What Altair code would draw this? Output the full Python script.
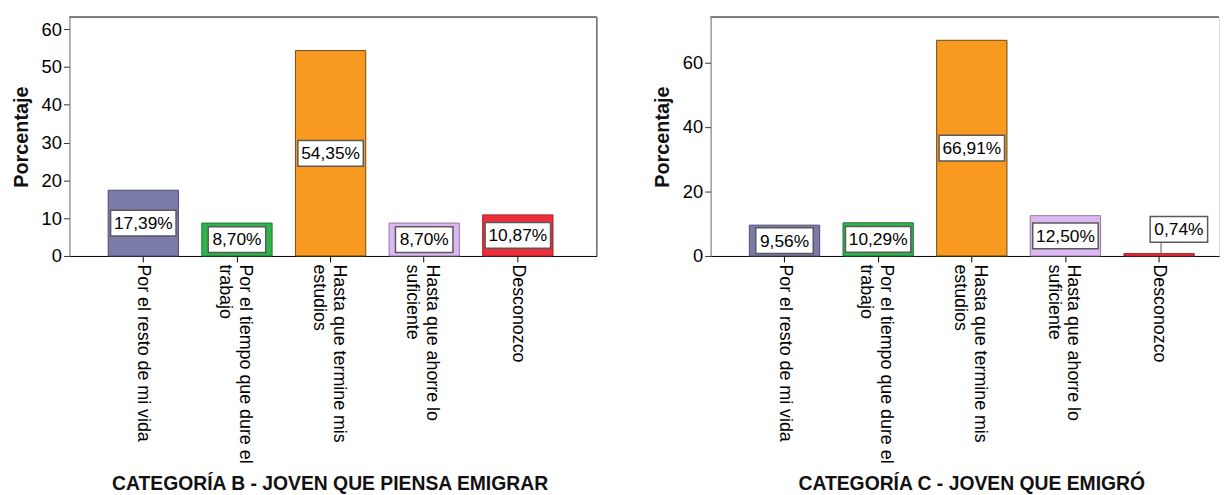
import altair as alt
import pandas as pd

# ---- data ----
categorias = [
    "Por el resto de mi vida",
    "Por el tiempo que dure el\ntrabajo",
    "Hasta que termine mis\nestudios",
    "Hasta que ahorre lo\nsuficiente",
    "Desconozco",
]
porcentaje_b = [17.39, 8.70, 54.35, 8.70, 10.87]
porcentaje_c = [9.56, 10.29, 66.91, 12.50, 0.74]
titulo_b = "CATEGORÍA B - JOVEN QUE PIENSA EMIGRAR"
titulo_c = "CATEGORÍA C - JOVEN QUE EMIGRÓ"
ticks_b = [0, 10, 20, 30, 40, 50, 60]
ticks_c = [0, 20, 40, 60]

# ---- styles ----
relleno = ["#7B7BAA", "#2FB34B", "#F79A1F", "#DCB8F2", "#EE2E3B"]
borde = ["#4E4E72", "#1E7A31", "#6E4A18", "#8E7A99", "#A3222B"]
FONT = "Liberation Sans"
H = 241


def etiqueta(v):
    return f"{v:.2f}".replace(".", ",") + "%"


def panel(valores, titulo, ticks, ymax, width, pad_outer, align, title_x, marco_derecho):
    df = pd.DataFrame({
        "cat": categorias,
        "v": valores,
        "lab": [etiqueta(v) for v in valores],
    })
    ppu = H / ymax  # pixels per unit
    half = 13 / ppu
    minmid = 14.5 / ppu
    up = 24.4 / ppu

    base = alt.Chart(df).transform_calculate(
        fuera="datum.v < 2",
        ymid=f"datum.v < 2 ? datum.v + {up} : max(datum.v / 2, {minmid})",
    ).transform_calculate(
        ylo=f"datum.ymid - {half}",
        yhi=f"datum.ymid + {half}",
        n="length(datum.lab)",
    )

    xenc = alt.X(
        "cat:N",
        sort=categorias,
        scale=alt.Scale(domain=categorias, paddingInner=0.249, paddingOuter=pad_outer, align=align),
        axis=alt.Axis(
            title=titulo,
            labelExpr="split(datum.label, '\\n')",
            labelAngle=90,
            labelAlign="left",
            labelBaseline="middle",
            labelLimit=0,
            labelFont=FONT,
            labelFontSize=18,
            labelLineHeight=20,
            labelColor="#000000",
            labelPadding=2,
            labelOffset=alt.ExprRef("indexof(datum.value, '\\n') >= 0 ? 8 : 0"),
            tickSize=6,
            tickColor="#000000",
            domainColor="#000000",
            titleFont=FONT,
            titleFontSize=19.5,
            titleFontWeight="bold",
            titleColor="#111111",
            titlePadding=21,
            titleX=title_x,
        ),
    )
    yscale = alt.Scale(domain=[0, ymax], nice=False, zero=True)

    barras = base.mark_bar(strokeWidth=1).encode(
        x=xenc,
        y=alt.Y(
            "v:Q",
            scale=yscale,
            axis=alt.Axis(
                title="Porcentaje",
                values=ticks,
                grid=False,
                labelFont=FONT,
                labelFontSize=18.5,
                labelColor="#000000",
                labelPadding=2,
                tickSize=6,
                tickColor="#333333",
                domainColor="#777777",
                titleFont=FONT,
                titleFontSize=20,
                titleFontWeight="bold",
                titleColor="#111111",
                titlePadding=10,
            ),
        ),
        color=alt.Color("cat:N", scale=alt.Scale(domain=categorias, range=relleno), legend=None),
        stroke=alt.Stroke("cat:N", scale=alt.Scale(domain=categorias, range=borde), legend=None),
    )

    cajas_corta = base.transform_filter("!datum.fuera && datum.n <= 5").mark_bar(
        width=58, color="white", stroke="#5a5a5a", strokeWidth=1.5
    ).encode(x=alt.X("cat:N", sort=categorias), y=alt.Y("ylo:Q", scale=yscale), y2="yhi:Q")
    cajas_larga = base.transform_filter("!datum.fuera && datum.n > 5").mark_bar(
        width=66, color="white", stroke="#5a5a5a", strokeWidth=1.5
    ).encode(x=alt.X("cat:N", sort=categorias), y=alt.Y("ylo:Q", scale=yscale), y2="yhi:Q")
    textos = base.transform_filter("!datum.fuera").mark_text(
        font=FONT, fontSize=17.5, color="#000000", baseline="middle", align="center", dy=1
    ).encode(x=alt.X("cat:N", sort=categorias), y=alt.Y("ymid:Q", scale=yscale), text="lab:N")

    guia = base.transform_filter("datum.fuera").mark_rule(
        color="#555555", strokeWidth=1, xOffset=2
    ).encode(x=alt.X("cat:N", sort=categorias), y=alt.Y("v:Q", scale=yscale), y2="ylo:Q")
    caja_fuera = base.transform_filter("datum.fuera").mark_bar(
        width=58, color="white", stroke="#5a5a5a", strokeWidth=1.5, xOffset=20
    ).encode(x=alt.X("cat:N", sort=categorias), y=alt.Y("ylo:Q", scale=yscale), y2="yhi:Q")
    texto_fuera = base.transform_filter("datum.fuera").mark_text(
        font=FONT, fontSize=17.5, color="#000000", baseline="middle", align="center", dx=20, dy=1
    ).encode(x=alt.X("cat:N", sort=categorias), y=alt.Y("ymid:Q", scale=yscale), text="lab:N")

    marco_sup = alt.Chart(df).mark_rule(color="#777777", strokeWidth=1).encode(
        x=alt.value(0), x2=alt.value(width), y=alt.value(0)
    )
    capas = [barras, marco_sup, guia, cajas_corta, cajas_larga, caja_fuera, textos, texto_fuera]
    if marco_derecho:
        capas.append(
            alt.Chart(df).mark_rule(color="#777777", strokeWidth=1).encode(
                x=alt.value(width), y=alt.value(0), y2=alt.value(H)
            )
        )
    return alt.layer(*capas).properties(width=width, height=H)


izq = panel(porcentaje_b, titulo_b, ticks_b, 63.2, 532, 0.44, 0.47, 262.5, True)
der = panel(porcentaje_c, titulo_c, ticks_c, 74.1, 513, 0.339, 0.61, 263, False)

chart = alt.hconcat(izq, der, spacing=54).resolve_scale(
    x="independent", y="independent", color="independent", stroke="independent"
).properties(
    padding={"left": 2, "top": 6, "right": 0, "bottom": 0}
).configure_view(stroke=None).configure(background="white")

chart.save("out.html", embed_options={"renderer": "svg", "actions": False})
